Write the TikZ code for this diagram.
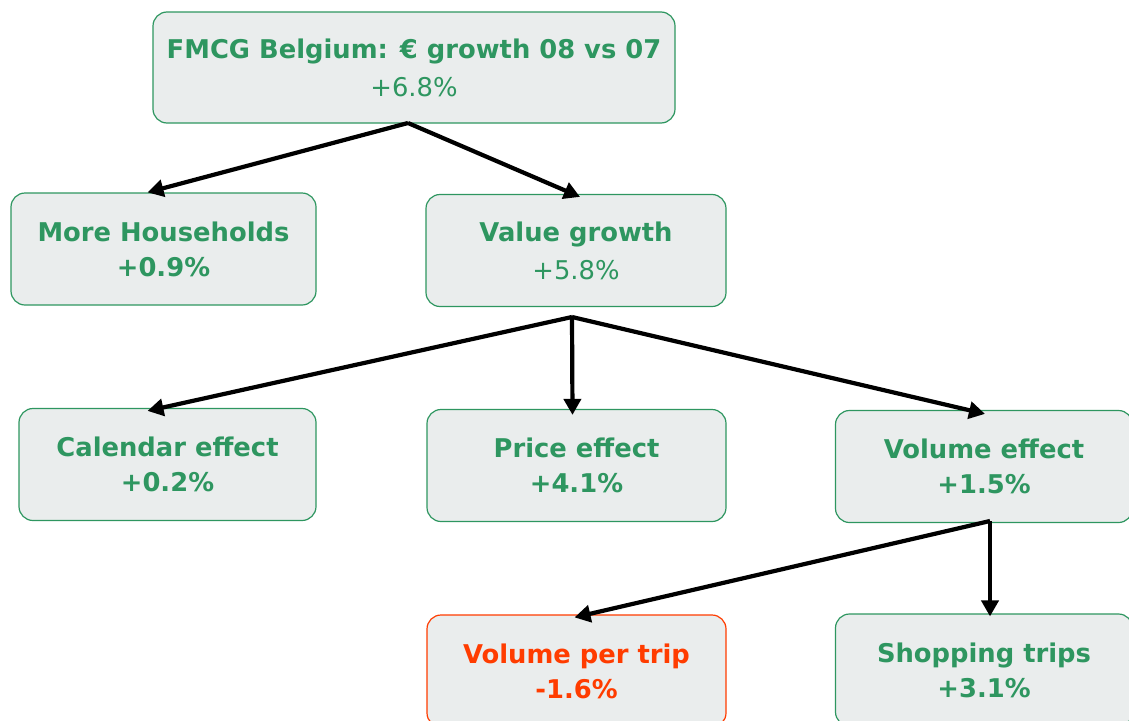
\documentclass[tikz,border=0pt]{standalone}
\usepackage{fontspec}
\setmainfont{DejaVu Sans}
\usetikzlibrary{arrows.meta}
\definecolor{fgreen}{RGB}{46,150,96}
\definecolor{fred}{RGB}{255,60,0}
\definecolor{ffill}{RGB}{234,237,237}
\tikzset{
  box/.style={draw=fgreen, line width=1.2pt, fill=ffill, rounded corners=14pt,
    text=fgreen, align=center, font=\fontsize{25.8}{35}\selectfont\bfseries,
    minimum width=300pt, minimum height=112pt, inner sep=0pt},
  redbox/.style={box, draw=fred, text=fred},
  arr/.style={line width=4.2pt, -{Triangle[length=16pt,width=17pt]}}
}
\begin{document}
\begin{tikzpicture}[x=1pt,y=-1pt]
\useasboundingbox (0,0) rectangle (1129,720);
\clip (0,0) rectangle (1129,720);
\node[box, minimum width=522pt, minimum height=111pt] (top) at (414,67.5)
  {FMCG Belgium: € growth 08 vs 07\\[3pt]{\mdseries +6.8\%}};
\node[box, minimum width=305pt] (mh) at (163.5,249) {More Households\\+0.9\%};
\node[box] (vg) at (576,250.5) {Value growth\\[3pt]{\mdseries +5.8\%}};
\node[box, minimum width=297pt] (cal) at (167.5,464.5) {Calendar effect\\+0.2\%};
\node[box, minimum width=299pt] (pe) at (576.5,465.5) {Price effect\\+4.1\%};
\node[box, minimum width=297pt] (ve) at (984,466.5) {Volume effect\\+1.5\%};
\node[redbox, minimum width=299pt] (vpt) at (576.5,671) {Volume per trip\\-1.6\%};
\node[box, minimum width=297pt] (st) at (984,670) {Shopping trips\\+3.1\%};
\coordinate (topj) at (408,123);
\coordinate (vgj) at (572,317);
\coordinate (vej) at (990,521);
\draw[arr] (topj) -- ([xshift=-16pt]mh.north);
\draw[arr] (topj) -- ([xshift=4pt,yshift=-3pt]vg.north);
\draw[arr] (vgj) -- ([xshift=-20pt,yshift=-3pt]cal.north);
\draw[arr] (vgj) -- ([xshift=-4pt,yshift=-6pt]pe.north);
\draw[arr] (vgj) -- ([xshift=1pt,yshift=-4pt]ve.north);
\draw[arr] (vej) -- ([xshift=-2pt,yshift=-3pt]vpt.north);
\draw[arr] (vej) -- ([xshift=6pt,yshift=-3pt]st.north);
\end{tikzpicture}
\end{document}
